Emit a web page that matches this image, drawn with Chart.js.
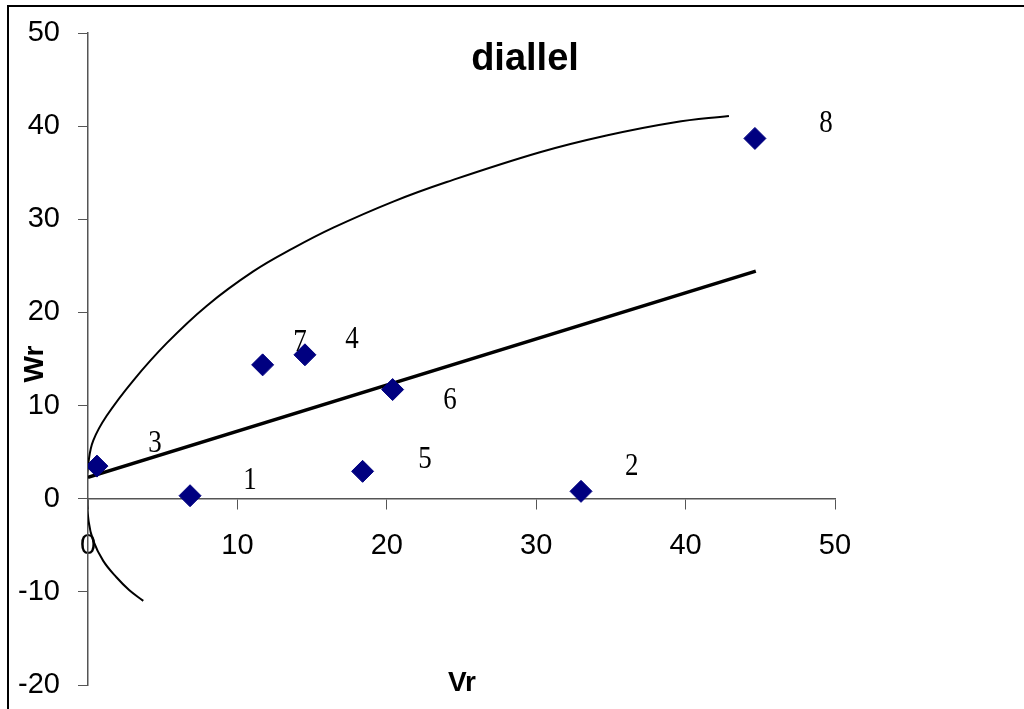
<!DOCTYPE html>
<html>
<head>
<meta charset="utf-8">
<script src="https://cdn.jsdelivr.net/npm/chart.js"></script>
<style>
  html, body { margin: 0; padding: 0; background: #fff; }
  #wrap { width: 1024px; height: 709px; position: relative; }
</style>
</head>
<body>
<div id="wrap"><canvas id="diallelChart"></canvas></div>
<script>
// parents (array numbers) with their Vr / Wr values
const parentNames = ['1', '2', '3', '4', '5', '6', '7', '8'];
const vrValues = [6.83, 33.0, 0.6, 14.52, 18.38, 20.39, 11.69, 44.64];
const wrValues = [0.32, 0.79, 3.5, 15.45, 2.94, 11.72, 14.37, 38.68];

// where the number of each parent is written (data units)
const nameVr = [10.84, 36.4, 4.48, 17.67, 22.56, 24.23, 14.19, 49.4];
const nameWr = [1.94, 3.44, 5.9, 17.1, 4.19, 10.54, 16.77, 40.3];

// regression line Wr on Vr
const regVr = [0, 44.7];
const regWr = [2.29, 24.44];

// limiting parabola (the vertex is cut by the Wr axis)
const curveVr = [3.70, 2.75, 1.92, 1.02, 0.35, 0.04, -0.1, 0.04, 0.35, 1.25, 3.03, 5.27, 7.94, 11.06, 13.74, 16.42, 20.43, 24.01, 30.25, 34.7, 39.2, 42.9];
const curveWr = [-10.97, -9.8, -8.46, -6.67, -4.5, -2.4, 1.0, 4.0, 6.24, 8.9, 12.69, 16.7, 20.7, 24.4, 26.9, 29.1, 31.9, 34.0, 37.2, 39.0, 40.4, 41.1];

const xTicks = [0, 10, 20, 30, 40, 50];
const yTicks = [-20, -10, 0, 10, 20, 30, 40, 50];

const toPoints = (xs, ys) => xs.map((x, i) => ({ x: x, y: ys[i] }));

const axisColor = '#555';

const extrasPlugin = {
  id: 'extras',
  beforeDraw(chart) {
    const ctx = chart.ctx;
    ctx.save();
    ctx.strokeStyle = '#000';
    ctx.lineWidth = 2;
    ctx.beginPath();
    ctx.moveTo(8, 709);
    ctx.lineTo(8, 6);
    ctx.lineTo(1024, 6);
    ctx.stroke();
    ctx.restore();
  },
  afterDatasetsDraw(chart) {
    const ctx = chart.ctx;
    const xs = chart.scales.x;
    const ys = chart.scales.y;
    ctx.save();
    ctx.fillStyle = '#000';
    ctx.textAlign = 'center';
    ctx.textBaseline = 'middle';

    // parent numbers
    ctx.font = '27px "Liberation Serif", "Times New Roman", serif';
    parentNames.forEach((name, i) => {
      const px = xs.getPixelForValue(nameVr[i]);
      const py = ys.getPixelForValue(nameWr[i]);
      ctx.save();
      ctx.translate(px, py);
      ctx.scale(1, 1.2);
      ctx.fillText(name, 0, 0);
      ctx.restore();
    });

    // title
    ctx.font = 'bold 38px "Liberation Sans", Arial, sans-serif';
    ctx.fillText('diallel', 525, 60);

    // axis titles
    ctx.font = 'bold 28px "Liberation Sans", Arial, sans-serif';
    ctx.fillText('Vr', 462, 683);
    ctx.translate(35, 364);
    ctx.rotate(-Math.PI / 2);
    ctx.fillText('Wr', 0, 0);
    ctx.restore();
  }
};

new Chart(document.getElementById('diallelChart'), {
  type: 'scatter',
  data: {
    datasets: [
      {
        label: 'parents',
        data: toPoints(vrValues, wrValues),
        pointStyle: 'rectRot',
        pointRadius: 11,
        backgroundColor: '#000080',
        borderColor: '#000080',
        borderWidth: 1,
        order: 1
      },
      {
        label: 'regression',
        data: toPoints(regVr, regWr),
        showLine: true,
        borderColor: '#000',
        borderWidth: 3.5,
        pointRadius: 0,
        order: 2
      },
      {
        label: 'parabola',
        data: toPoints(curveVr, curveWr),
        showLine: true,
        borderColor: '#000',
        borderWidth: 2,
        tension: 0.4,
        pointRadius: 0,
        order: 3
      }
    ]
  },
  options: {
    responsive: true,
    maintainAspectRatio: false,
    animation: false,
    layout: { padding: { left: 0, right: 189, top: 33, bottom: 24 } },
    plugins: {
      legend: { display: false },
      tooltip: { enabled: false }
    },
    scales: {
      x: {
        type: 'linear',
        position: { y: 0 },
        min: 0,
        max: 50,
        afterBuildTicks: (scale) => { scale.ticks = xTicks.map(v => ({ value: v })); },
        ticks: {
          color: '#000',
          font: { family: '"Liberation Sans", Arial, sans-serif', size: 29 },
          padding: 20
        },
        grid: { drawOnChartArea: false, drawTicks: true, tickLength: 10, color: axisColor },
        border: { display: true, color: axisColor, width: 1.5 }
      },
      y: {
        type: 'linear',
        position: 'left',
        min: -20,
        max: 50,
        afterBuildTicks: (scale) => { scale.ticks = yTicks.map(v => ({ value: v })); },
        afterFit: (scale) => {
          scale.width = 88;
          scale.paddingTop = 0;
          scale.paddingBottom = 0;
        },
        ticks: {
          color: '#000',
          font: { family: '"Liberation Sans", Arial, sans-serif', size: 29 },
          padding: 18
        },
        grid: { drawOnChartArea: false, drawTicks: true, tickLength: 10, color: axisColor },
        border: { display: true, color: axisColor, width: 1.5 }
      }
    }
  },
  plugins: [extrasPlugin]
});
</script>
</body>
</html>
